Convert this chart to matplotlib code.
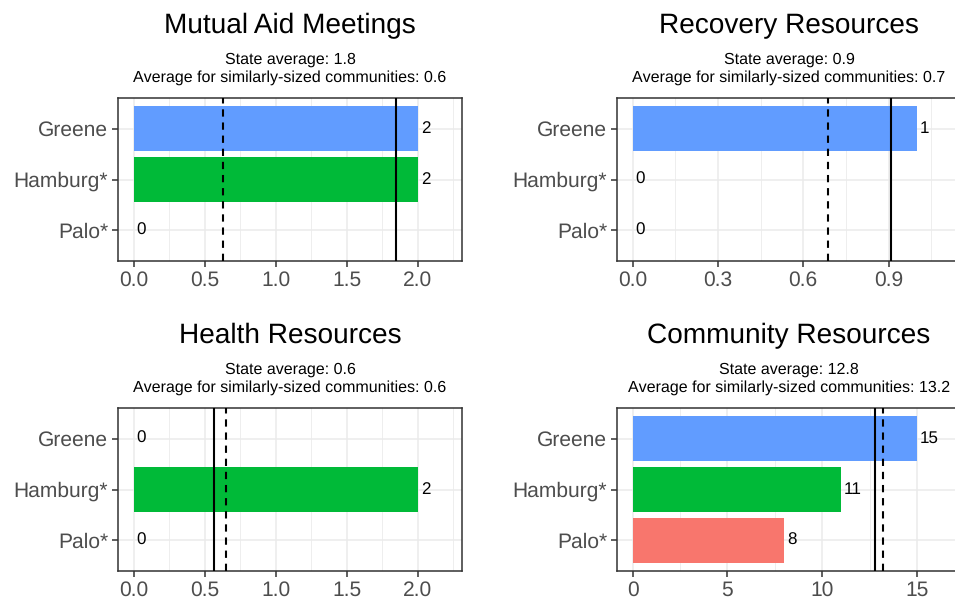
import matplotlib
matplotlib.use("Agg")
import matplotlib.pyplot as plt
from matplotlib.ticker import MultipleLocator

plt.rcParams['font.family'] = ['Liberation Sans', 'DejaVu Sans']
plt.rcParams['text.hinting'] = 'no_hinting'
plt.rcParams['text.hinting_factor'] = 1

# data
towns = ["Greene", "Hamburg*", "Palo*"]
town_colors = ["#619CFF", "#00BA38", "#F8766D"]

titles = ["Mutual Aid Meetings", "Recovery Resources",
          "Health Resources", "Community Resources"]
mutual_aid = [2, 2, 0]
recovery = [1, 0, 0]
health = [0, 2, 0]
community = [15, 11, 8]
state_avg = [1.845, 0.91, 0.566, 12.77]
similar_avg = [0.63, 0.687, 0.648, 13.21]
state_lbl = ["1.8", "0.9", "0.6", "12.8"]
similar_lbl = ["0.6", "0.7", "0.6", "13.2"]
tick_step = [0.5, 0.3, 0.5, 5]
tick_fmt = ["{:.1f}", "{:.1f}", "{:.1f}", "{:.0f}"]
values = [mutual_aid, recovery, health, community]

W, H = 955, 602
fig = plt.figure(figsize=(W / 100, H / 100), dpi=100)

# panel boxes in pixels: left, top
boxes = [(118, 98), (617, 98), (118, 408), (617, 408)]
pw, ph = 344, 163

for i in range(4):
    l, t = boxes[i]
    ax = fig.add_axes([l / W, 1 - (t + ph) / H, pw / W, ph / H])
    vals = values[i]
    ypos = [3, 2, 1]
    ax.barh(ypos, vals, height=0.9, color=town_colors, zorder=2)
    lim = max(vals) * 1.1
    ax.set_xlim(-0.05 * lim, lim * 1.05)
    ax.set_ylim(0.4, 3.6)
    ax.axvline(state_avg[i], color="black", lw=1.5, zorder=3)
    ax.axvline(similar_avg[i], color="black", lw=1.5, ls=(0, (3.5, 2.8)), zorder=3)
    for y, v in zip(ypos, vals):
        ax.annotate(str(v), (v, y), xytext=(3, 0), textcoords="offset pixels",
                    ha="left", va="center", fontsize=12.5, color="black", zorder=4)
    step = tick_step[i]
    ax.xaxis.set_major_locator(MultipleLocator(step))
    ax.xaxis.set_minor_locator(MultipleLocator(step / 2))
    ax.xaxis.set_major_formatter(lambda x, p, f=tick_fmt[i]: f.format(x))
    ax.set_yticks(ypos)
    ax.set_yticklabels(towns)
    ax.grid(which="major", color="#EBEBEB", lw=1.1, zorder=0)
    ax.grid(which="minor", axis="x", color="#EBEBEB", lw=0.6, zorder=0)
    ax.set_axisbelow(True)
    for s in ax.spines.values():
        s.set_color("#333333")
        s.set_linewidth(1.1)
    ax.tick_params(which="major", length=4, width=1.1, color="#333333",
                   labelcolor="#4D4D4D", labelsize=15.4, pad=3)
    ax.tick_params(which="minor", length=0)

    cx = (l + pw / 2) / W
    fig.text(cx, 1 - (t - 65) / H, titles[i], ha="center", va="baseline",
             fontsize=20, color="black")
    fig.text(cx, 1 - (t - 34) / H, "State average: " + state_lbl[i],
             ha="center", va="baseline", fontsize=11.6, color="black")
    fig.text(cx, 1 - (t - 16) / H,
             "Average for similarly-sized communities: " + similar_lbl[i],
             ha="center", va="baseline", fontsize=11.6, color="black")

fig.savefig("out.png", dpi=100)
